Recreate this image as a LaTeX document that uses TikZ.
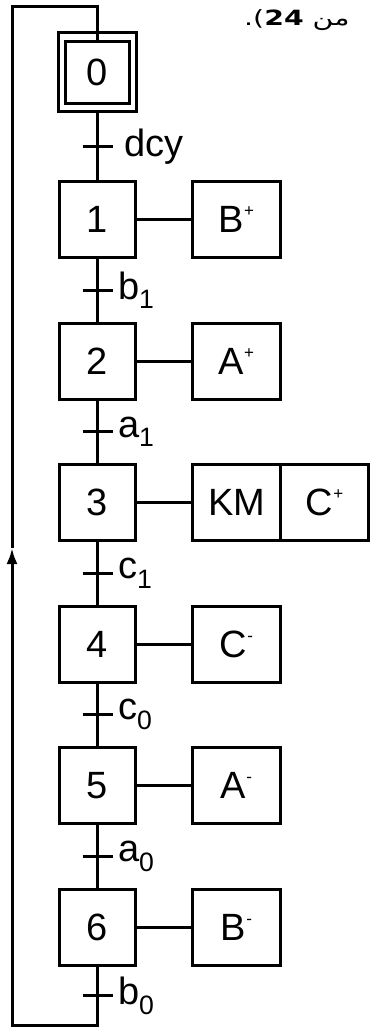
\documentclass[tikz,border=0pt]{standalone}
\usepackage{fontspec}
\setmainfont{Liberation Sans}
\newfontfamily\arabicfont[Script=Arabic,FakeStretch=1.35]{DejaVu Sans}
\TeXXeTstate=1
\usetikzlibrary{arrows.meta,positioning}
\newcommand{\sgn}[1]{\raisebox{0.42em}{\fontsize{17}{17}\selectfont #1}}

\begin{document}
\begin{tikzpicture}[x=1pt,y=-1pt,line width=3pt,
  font=\fontsize{38}{42}\selectfont,
  etape/.style={draw,minimum width=76pt,minimum height=76pt,inner sep=0pt},
  action/.style={draw,minimum width=88pt,minimum height=76pt,inner sep=0pt},
  recept/.style={right,inner sep=4pt},
  node distance=62.5pt]
  \useasboundingbox (0,0) rectangle (371,1028);
  \node[font=\arabicfont\fontsize{21}{25}\selectfont,anchor=base east,inner sep=0pt] (note) at (351,25) {\beginR من \textbf{24}).\endR};
  \node[etape,minimum width=64pt,minimum height=62pt] (s0) at (97.5,72) {0};
  \node[draw,minimum width=78pt,minimum height=79pt] (s0o) at (s0) {};
  \node[etape,below=67pt of s0o] (s1) {1};
  \node[etape,below=of s1] (s2) {2};
  \node[etape,below=of s2] (s3) {3};
  \node[etape,below=of s3] (s4) {4};
  \node[etape,below=of s4] (s5) {5};
  \node[etape,below=of s5] (s6) {6};
  \node[action,right=54pt of s1] (a1) {B\sgn{+}};
  \node[action,right=54pt of s2] (a2) {A\sgn{+}};
  \node[action,right=54pt of s3] (a3) {KM};
  \node[action,right=-3pt of a3] (a3b) {C\sgn{+}};
  \node[action,right=54pt of s4] (a4) {C\sgn{-}};
  \node[action,right=54pt of s5] (a5) {A\sgn{-}};
  \node[action,right=54pt of s6] (a6) {B\sgn{-}};
  \draw (s1) -- (a1);
  \draw (s2) -- (a2);
  \draw (s3) -- (a3);
  \draw (s4) -- (a4);
  \draw (s5) -- (a5);
  \draw (s6) -- (a6);
  \draw (s0o) -- (s1);
  \draw (s1) -- (s2);
  \draw (s2) -- (s3);
  \draw (s3) -- (s4);
  \draw (s4) -- (s5);
  \draw (s5) -- (s6);
  \coordinate (lb) at (12,1025);
  \coordinate (lm) at (12,548);
  \coordinate (lt) at (12,6);
  \draw[-{Latex[length=16pt,width=11pt]}] (s6) |- (lb) -- (lm);
  \draw (lm) -- (lt) -| (s0);
  \path (s0o.south) -- coordinate (t0) (s1.north);
  \path (s1.south) -- coordinate (t1) (s2.north);
  \path (s2.south) -- coordinate (t2) (s3.north);
  \path (s3.south) -- coordinate (t3) (s4.north);
  \path (s4.south) -- coordinate (t4) (s5.north);
  \path (s5.south) -- coordinate (t5) (s6.north);
  \path (s6.south) -- coordinate (t6) (s6 |- lb);
  \draw ([xshift=-15pt]t0) -- ([xshift=15pt]t0) node[recept,xshift=6pt] {dcy};
  \draw ([xshift=-15pt]t1) -- ([xshift=15pt]t1) node[recept] {b\textsubscript{1}};
  \draw ([xshift=-15pt]t2) -- ([xshift=15pt]t2) node[recept] {a\textsubscript{1}};
  \draw ([xshift=-15pt]t3) -- ([xshift=15pt]t3) node[recept] {c\textsubscript{1}};
  \draw ([xshift=-15pt]t4) -- ([xshift=15pt]t4) node[recept] {c\textsubscript{0}};
  \draw ([xshift=-15pt]t5) -- ([xshift=15pt]t5) node[recept] {a\textsubscript{0}};
  \draw ([xshift=-15pt]t6) -- ([xshift=15pt]t6) node[recept] {b\textsubscript{0}};
\end{tikzpicture}
\end{document}
